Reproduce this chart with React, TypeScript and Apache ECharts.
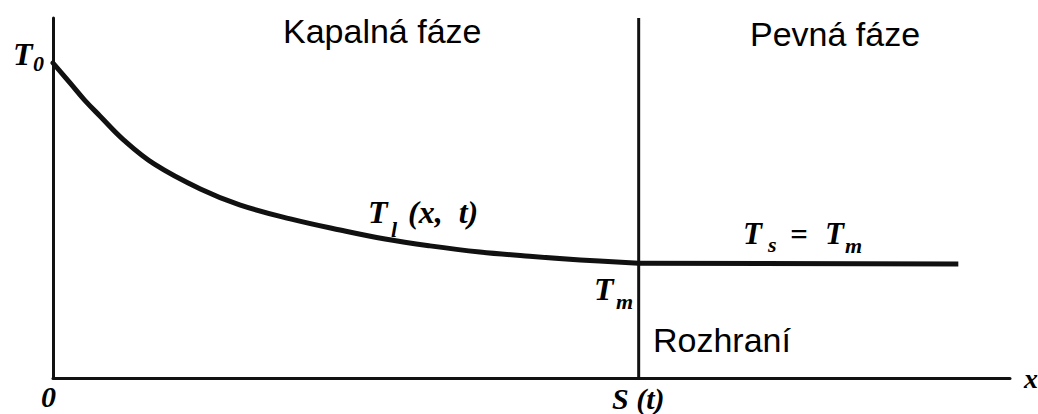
import React, { useEffect, useRef } from "react";
import * as echarts from "echarts";

// Liquid-phase temperature profile T_l(x, t)
const liquidX = [0, 0.18, 0.33, 0.49, 0.74, 1.06, 1.54, 1.95, 2.48, 3.0, 3.47, 3.94, 4.46, 4.98, 5.51, 6.12];
const liquidY = [8.75, 8.19, 7.72, 7.28, 6.61, 5.94, 5.25, 4.81, 4.42, 4.11, 3.86, 3.67, 3.5, 3.38, 3.28, 3.19];
// Solid phase T_s = T_m
const solidX = [6.12, 9.46];
const solidY = [3.19, 3.17];
// Interface S(t)
const interfaceX = [6.12, 6.12];
const interfaceY = [0, 10];

const xRange = [0, 10];
const yRange = [0, 10];

const SANS = "'Liberation Sans', Arial, sans-serif";
const SERIF = "'Liberation Serif', 'Times New Roman', serif";

function txt(text: string, x: number, y: number, font: string) {
  return {
    type: "text",
    x,
    y,
    silent: true,
    style: {
      text,
      font,
      fill: "#000",
      textAlign: "left",
      textVerticalAlign: "middle",
      align: "left",
      verticalAlign: "middle",
    },
  };
}

const big = (s: number) => `italic bold ${s}px ${SERIF}`;
const sans = `normal 34px ${SANS}`;

export default function App() {
  const ref = useRef<HTMLDivElement>(null);
  useEffect(() => {
    if (!ref.current) return;
    const chart = echarts.init(ref.current, undefined, { renderer: "svg" });
    const pair = (xs: number[], ys: number[]) => xs.map((v, i) => [v, ys[i]]);
    chart.setOption({
      animation: false,
      backgroundColor: "#fff",
      grid: { left: 53, right: 28, top: 18, bottom: 36 },
      xAxis: {
        type: "value",
        min: xRange[0],
        max: xRange[1],
        axisLine: { show: true, onZero: false, lineStyle: { color: "#111", width: 3 } },
        axisTick: { show: false },
        axisLabel: { show: false },
        splitLine: { show: false },
      },
      yAxis: {
        type: "value",
        min: yRange[0],
        max: yRange[1],
        axisLine: { show: true, onZero: false, lineStyle: { color: "#111", width: 3 } },
        axisTick: { show: false },
        axisLabel: { show: false },
        splitLine: { show: false },
      },
      series: [
        {
          name: "Tl",
          type: "line",
          data: pair(liquidX, liquidY),
          smooth: 0.4,
          showSymbol: false,
          lineStyle: { color: "#111", width: 5, join: "round", cap: "round" },
        },
        {
          name: "Ts",
          type: "line",
          data: pair(solidX, solidY),
          showSymbol: false,
          lineStyle: { color: "#111", width: 5 },
        },
        {
          name: "S",
          type: "line",
          data: pair(interfaceX, interfaceY),
          showSymbol: false,
          lineStyle: { color: "#111", width: 3 },
        },
      ],
      graphic: [
        txt("Kapalná fáze", 283, 31, sans),
        txt("Pevná fáze", 750, 34, sans),
        txt("Rozhraní", 653, 340, sans),
        // T0
        txt("T", 13, 54, big(32)),
        txt("0", 33, 63, big(22)),
        // Tm at interface
        txt("T", 594, 289, big(32)),
        txt("m", 616, 301, big(22)),
        // Tl(x, t)
        txt("T", 368, 212, big(32)),
        txt("l", 391, 229, big(22)),
        txt("(x,  t)", 408, 212, big(32)),
        // Ts = Tm
        txt("T", 743, 233, big(31)),
        txt("s", 768, 244, big(22)),
        txt("=", 790, 234, big(31)),
        txt("T", 825, 233, big(31)),
        txt("m", 845, 245, big(22)),
        // axis labels
        txt("0", 41, 396, big(30)),
        txt("S (t)", 612, 398, big(30)),
        txt("x", 1024, 378, big(28)),
      ],
    });
    return () => chart.dispose();
  }, []);
  return (
    <div
      ref={ref}
      style={{ position: "fixed", left: 0, top: 0, width: 1038, height: 414, background: "#fff" }}
    />
  );
}
